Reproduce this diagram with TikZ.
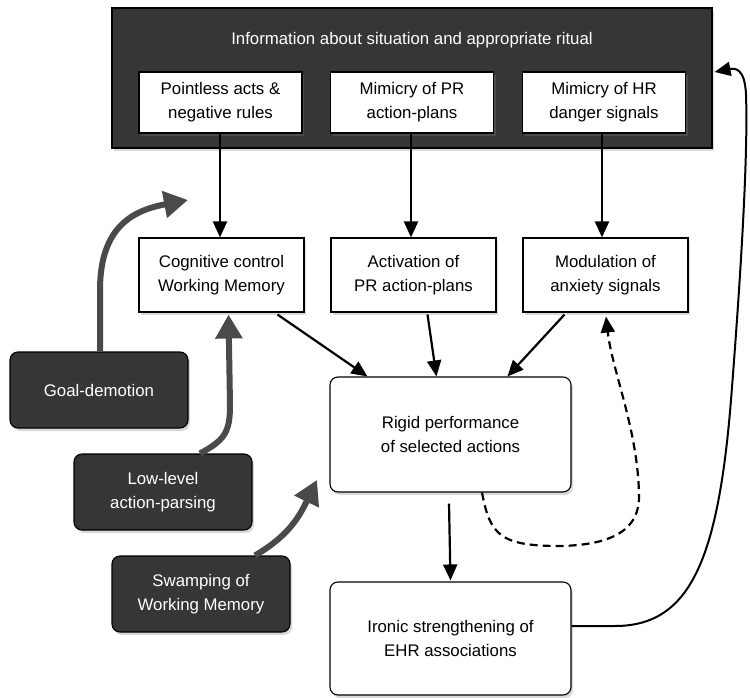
\documentclass[tikz,border=0pt]{standalone}
\usepackage{fontspec}
\setmainfont{Liberation Sans}
\usetikzlibrary{arrows.meta,shadows,calc}
\definecolor{darkbox}{HTML}{363636}
\definecolor{greyarr}{HTML}{4A4A4A}
\begin{document}
\begin{tikzpicture}[x=1pt,y=-1pt,
  font=\fontsize{16.8}{24}\selectfont,
  shad/.style={drop shadow={shadow xshift=2pt,shadow yshift=-3pt,opacity=0.3}},
  wbox/.style={draw=black, fill=white, line width=1.1pt, align=center, inner sep=0pt, shad},
  rbox/.style={wbox, rounded corners=8pt, minimum width=241pt},
  dbox/.style={draw=black, fill=darkbox, text=white, line width=1.1pt, align=center, inner sep=0pt, rounded corners=8pt, minimum width=178pt, minimum height=76pt, shad},
  blk/.style={-{Triangle[length=16pt,width=14pt]}, line width=2.2pt},
  garr/.style={-{Triangle[length=24pt,width=26pt]}, line width=6pt, draw=greyarr, color=greyarr},
  ]
\useasboundingbox (0,0) rectangle (750,698);
% top box
\node[draw=black, fill=darkbox, line width=1.1pt, minimum width=600pt, minimum height=140pt, inner sep=0pt, shad] (top) at (412,78) {};
\node[text=white] (title) at (412,40) {Information about situation and appropriate ritual};
\node[wbox, minimum width=163pt, minimum height=61pt] (p1) at (220.5,102.5) {Pointless acts \&\\negative rules};
\node[wbox, minimum width=163pt, minimum height=61pt] (p2) at (412,102.5) {Mimicry of PR\\action-plans};
\node[wbox, minimum width=163pt, minimum height=61pt] (p3) at (604,102.5) {Mimicry of HR\\danger signals};
% middle row
\node[wbox, minimum width=165pt, minimum height=74pt] (c1) at (221.5,275) {Cognitive control\\Working Memory};
\node[wbox, minimum width=165pt, minimum height=74pt] (c2) at (413.5,275) {Activation of\\PR action-plans};
\node[wbox, minimum width=165pt, minimum height=74pt] (c3) at (605.5,275) {Modulation of\\anxiety signals};
% rounded boxes
\node[rbox, minimum height=115pt] (rig) at (450.5,434.5) {Rigid performance\\of selected actions};
\node[rbox, minimum height=113pt] (iro) at (450.5,638.5) {Ironic strengthening of\\EHR associations};
% dark boxes
\node[dbox] (goal) at (99,390) {Goal-demotion};
\node[dbox] (low) at (163,492) {Low-level\\action-parsing};
\node[dbox] (swa) at (201,594) {Swamping of\\Working Memory};
% black arrows
\draw[blk] ($(p1.south)+(-0.5,0)$) -- ($(c1.north)+(-1.5,0)$);
\draw[blk] ($(p2.south)+(-1,0)$) -- ($(c2.north)+(-2.5,0)$);
\draw[blk] ($(p3.south)+(-2,0)$) -- ($(c3.north)+(-3.5,0)$);
\draw[blk] ($(c1.south)+(56,2)$) -- ($(rig.north west)+(38,0)$);
\draw[blk] ($(c2.south)+(14,2)$) -- ($(rig.north west)+(107,0)$);
\draw[blk] ($(c3.south)+(-41,2)$) -- ($(rig.north west)+(178,0)$);
\draw[blk] ($(rig.south)+(-1.5,11)$) -- ($(iro.north)+(0,-1)$);
% dashed feedback
\draw[blk, dash pattern=on 8pt off 5pt] ($(rig.south)+(31.5,0)$) .. controls (490,535) and (500,546) .. (560,546)
  .. controls (615,545) and (640,528) .. (639,495)
  .. controls (638,430) and (612,370) .. ($(c3.south)+(0.5,4)$);
% solid return
\draw[blk, line width=2pt] (iro.east |- 0,626) -- (615,626) .. controls (690,626) and (718,560) .. (731,400)
  .. controls (742,260) and (748,150) .. (746,95)
  .. controls (745,68) and (735,68) .. ($(top.east)+(2,-6)$);
% grey arrows
\draw[garr] ($(goal.north)+(1,0)$) -- (100,290) .. controls (100,225) and (135,210) .. (188,200);
\draw[garr] ($(low.north)+(37,0)$) .. controls (225,440) and (230,432) .. (230,405) -- ($(c1.south)+(7,2)$);
\draw[garr] ($(swa.north)+(54,0)$) .. controls (290,535) and (300,515) .. (317,480);
\end{tikzpicture}
\end{document}
